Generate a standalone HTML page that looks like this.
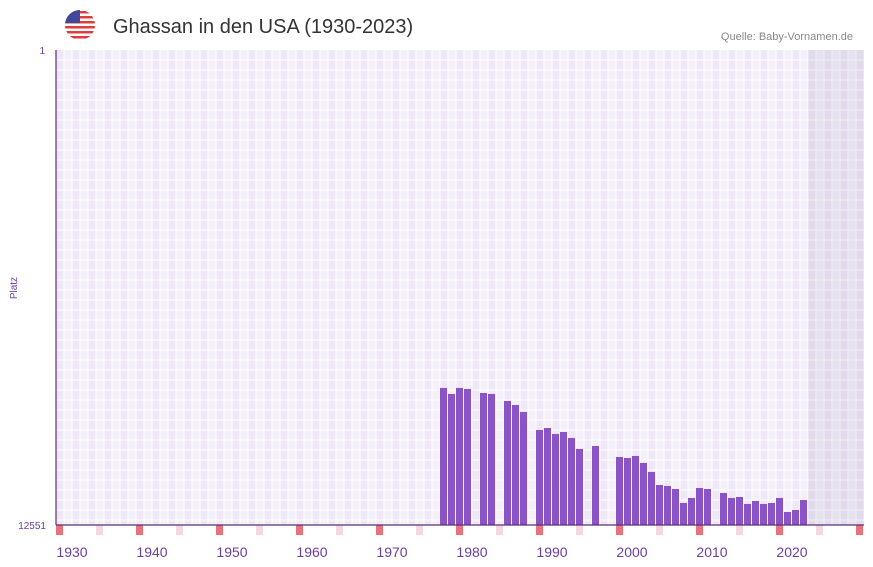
<!DOCTYPE html>
<html><head><meta charset="utf-8"><style>
body{margin:0;background:#fff;font-family:"Liberation Sans",sans-serif}
svg{display:block}
</style></head><body>
<svg id="chart" width="873" height="567" viewBox="0 0 873 567">
<defs>
<clipPath id="fc"><circle cx="80" cy="25" r="15"/></clipPath>
</defs>
<g clip-path="url(#fc)">
<rect x="65" y="10" width="30" height="30" fill="#fff"/>
<rect x="65" y="11" width="30" height="2.5" fill="#e03c3c"/>
<rect x="65" y="16" width="30" height="2.5" fill="#e03c3c"/>
<rect x="65" y="21" width="30" height="2.5" fill="#e03c3c"/>
<rect x="65" y="26" width="30" height="2.5" fill="#e03c3c"/>
<rect x="65" y="31" width="30" height="2.5" fill="#e03c3c"/>
<rect x="65" y="36" width="30" height="2.5" fill="#e03c3c"/>
<rect x="65" y="10" width="15" height="13" fill="#41479b"/>
</g>
<text x="113" y="33" font-size="20" fill="#333" font-family="Liberation Sans, sans-serif">Ghassan in den USA (1930-2023)</text>
<text x="853" y="40" font-size="11" fill="#888" text-anchor="end">Quelle: Baby-Vornamen.de</text>
<text transform="translate(17,288) rotate(-90)" font-size="10" fill="#6a3fa0" text-anchor="middle">Platz</text>
<text x="45" y="54" font-size="10" fill="#6a3fa0" text-anchor="end">1</text>
<text x="46" y="529" font-size="10" fill="#6a3fa0" text-anchor="end">12551</text>
<g id="grid"></g>
<g id="bars"></g>
<g id="xaxis"></g>
</svg>
<script>
const years=[1976,1977,1978,1979,1981,1982,1984,1985,1986,1988,1989,1990,1991,1992,1993,1995,1998,1999,2000,2001,2002,2003,2004,2005,2006,2007,2008,2009,2011,2012,2013,2014,2015,2016,2017,2018,2019,2020,2021];
const ranks=[8930,9089,8930,8957,9063,9089,9274,9380,9565,10040,9988,10146,10093,10252,10542,10463,10754,10780,10727,10912,11150,11494,11520,11600,11970,11837,11573,11600,11705,11837,11811,11995,11916,11995,11970,11837,12207,12154,11890];
const tickYears=[1930,1940,1950,1960,1970,1980,1990,2000,2010,2020];
const rankMin=1, rankMax=12551, yearStart=1928, yearEnd=2029, lastDataYear=2022;
const NS="http://www.w3.org/2000/svg";
const L=56,R=864,T=50,B=525;
const xs=y=>L+(y-yearStart)*(R-L)/(yearEnd-yearStart);
const ys=r=>T+(r-rankMin)*(B-T)/(rankMax-rankMin);
const cw=(R-L)/(yearEnd-yearStart);
function mk(tag,attrs,parent){const e=document.createElementNS(NS,tag);for(const k in attrs)e.setAttribute(k,attrs[k]);parent.appendChild(e);return e;}
const g=document.getElementById('grid');
const bg=mk('rect',{x:L,y:T,width:R-L,height:B-T,fill:'#fff'},g);


for(let yr=yearStart;yr<yearEnd;yr++){
  const c=mk('rect',{x:xs(yr)+0.5,y:T,width:cw-1,height:B-T,fill:(yr%2?'#f3effb':'#ede7f8')},g);
  
  
}
for(let yy=T+10;yy<B;yy+=10){
  const l=mk('line',{x1:L,x2:R,y1:yy,y2:yy,stroke:'#fff','stroke-width':1},g);
  
  
}
const sh=mk('rect',{x:xs(lastDataYear),y:T,width:R-xs(lastDataYear),height:B-T,fill:'#9a90a8',opacity:0.14},g);


const bz=document.getElementById('bars');
years.forEach((yr,i)=>{
  const y0=ys(ranks[i]);
  const b=mk('rect',{x:xs(yr),y:y0,width:cw-1,height:B-y0,fill:'#8b54c6'},bz);
  
  
});
const ax=document.getElementById('xaxis');
for(let yr=yearStart;yr<yearEnd;yr++){
  const m=yr%10;
  if(m===8||m===3){
    const r=mk('rect',{x:xs(yr),y:B,width:cw-1,height:10,fill:m===8?'#e8737a':'#f3d6de'},ax);
    
    
  }
}
const xl=mk('line',{x1:L,x2:R,y1:B,y2:B,stroke:'#5b2d7a','stroke-width':1.2},ax);


const yl=mk('line',{x1:L,x2:L,y1:T,y2:B,stroke:'#5b2d7a','stroke-width':1.2},ax);


tickYears.forEach(yr=>{
  const t=mk('text',{x:xs(yr),y:557,'font-size':14,fill:'#6a3fa0','text-anchor':'middle'},ax);
  t.textContent=yr;
  
  
});
</script>
</body></html>
